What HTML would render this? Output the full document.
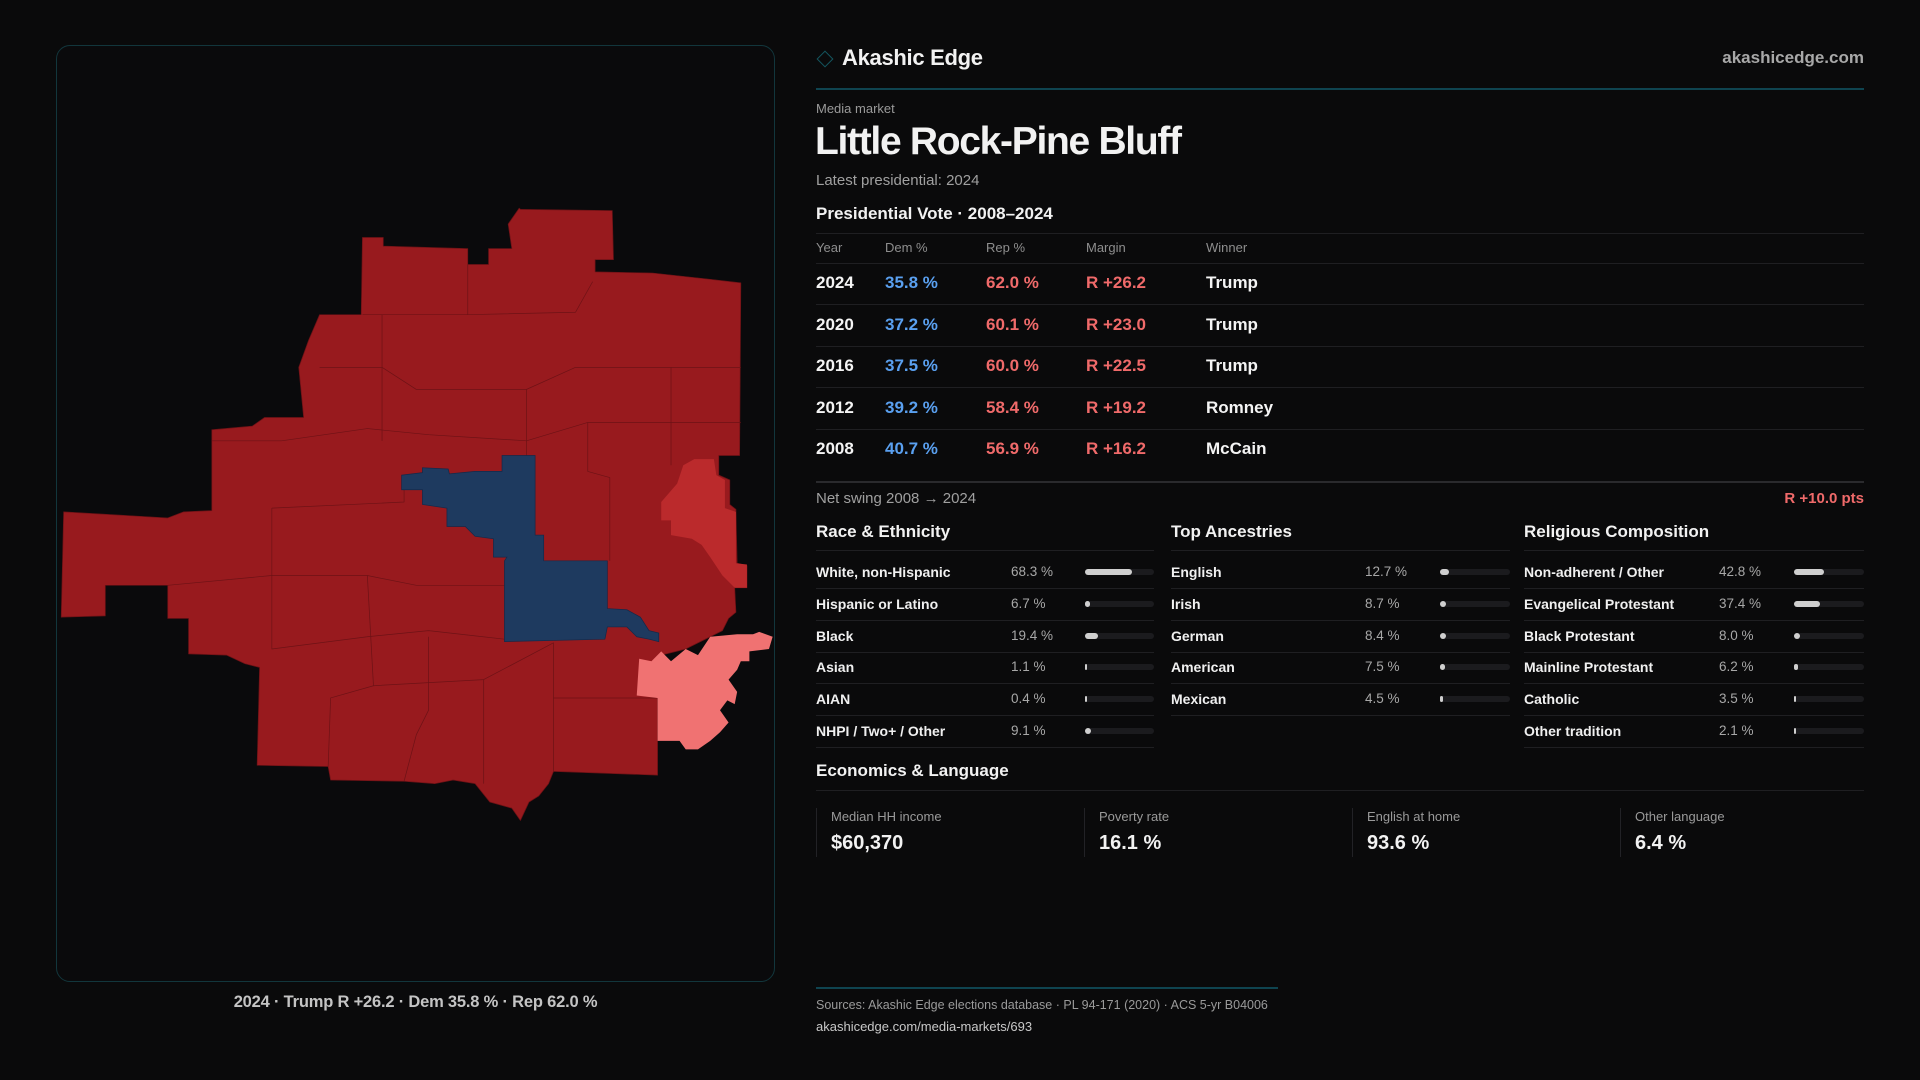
<!DOCTYPE html>
<html><head><meta charset="utf-8">
<style>
*{margin:0;padding:0;box-sizing:border-box}
body{width:1920px;height:1080px;background:#0a0a0b;font-family:"Liberation Sans",sans-serif;color:#f2f2f2;position:relative;overflow:hidden}
.a{position:absolute;white-space:nowrap}
.g{color:#9a9a9a}
.hl{position:absolute;height:1px;background:#1f1f22}
</style></head><body>
<div class="a" style="left:56px;top:45px;width:719px;height:937px;border:1.5px solid #12363c;border-radius:14px;background:#0a0a0c"></div>
<svg class="a" style="left:0;top:0" width="1920" height="1080" viewBox="0 0 1568 882">
<g stroke="#6e1216" stroke-width="0.6" stroke-linejoin="round">
<polygon fill="#981a1e" points="425,171 500,172 501,212 486,212 486,222 533,223 579,228 605,231 604,372 587,372 587,388 596,392 596,412 601,416 602,460 610,462 610,480 600,480 601,500 595,505 590,515 580,520 560,530 540,535 537,570 537,633 452,630 448,640 440,650 432,655 425,670 418,660 400,655 388,640 370,637 355,640 330,638 270,637 268,626 210,625 212,545 200,542 185,535 154,534 154,505 137,505 137,478 86,478 86,503 50,504 52,418 137,423 150,418 173,417 173,351 206,348 216,341 248,341 244,300 252,278 261,257 295,257 296,194 313,194 313,201 382,203 382,216 399,216 399,203 418,203 415,183 424,170"/>
<polyline fill="none" points="296,257 382,257 382,216"/>
<polyline fill="none" points="382,257 470,255 484,230"/>
<polyline fill="none" points="261,300 312,300 340,318 430,318 470,300 540,300 605,300"/>
<polyline fill="none" points="173,360 230,360 300,350 350,355 430,360 480,345 550,345 605,345"/>
<polyline fill="none" points="222,415 330,410 330,395"/>
<polyline fill="none" points="137,478 222,470 300,470 340,478 412,478"/>
<polyline fill="none" points="222,415 222,530 300,520 350,515 412,522"/>
<polyline fill="none" points="300,470 305,560 270,570 268,626"/>
<polyline fill="none" points="305,560 395,555 452,525 452,630"/>
<polyline fill="none" points="395,555 395,640"/>
<polyline fill="none" points="452,570 537,570"/>
<polyline fill="none" points="312,257 312,360"/>
<polyline fill="none" points="430,318 430,372"/>
<polyline fill="none" points="480,345 480,385 498,390 498,458"/>
<polyline fill="none" points="548,300 548,380"/>
<polyline fill="none" points="350,520 350,580 340,600 330,638"/>
</g>
<polygon fill="#bb2a2c" points="567,375 583,375 585,388 592,392 592,415 601,418 601,460 610,461 610,480 600,480 590,470 580,455 573,445 565,440 548,437 548,425 540,425 540,410 553,395 558,380"/>
<polygon fill="#1e3a5f" stroke="#15294a" stroke-width="0.6" points="328,388 345,386 345,382 366,383 367,387 388,385 410,385 410,372 437,372 437,437 444,437 444,458 496,458 496,497 512,498 523,504 530,515 538,517 538,524 530,522 520,520 512,512 496,512 494,522 412,524 412,458 414,455 403,455 403,440 388,438 380,430 365,430 365,415 345,412 345,400 328,400"/>
<polygon fill="#f07272" points="580,520 602,518 615,518 620,516 631,520 628,530 612,532 612,540 605,540 602,547 595,555 602,565 600,575 594,572 588,580 595,590 588,598 580,605 570,612 560,612 555,605 537,605 537,570 520,568 522,538 532,540 540,532 548,540 560,530 570,535"/>
</svg>
<div class="a" style="left:56px;width:719px;top:993px;text-align:center;font-size:16.5px;color:#c4c4c4;font-weight:bold;letter-spacing:-0.2px">2024 · Trump R +26.2 · Dem 35.8 % · Rep 62.0 %</div>

<div class="a" style="left:819px;top:53px;width:12px;height:12px;border:1.5px solid #145660;transform:rotate(45deg)"></div>
<div class="a" style="left:842px;top:45px;font-size:22px;font-weight:bold;letter-spacing:-0.3px">Akashic Edge</div>
<div class="a g" style="right:56px;top:48px;font-size:17px;font-weight:bold;color:#a8a8a8">akashicedge.com</div>
<div class="hl" style="left:816px;width:1048px;top:88px;background:#0f4450;height:1.5px"></div>
<div class="a g" style="left:816px;top:101px;font-size:13px">Media market</div>
<div class="a" style="left:815px;top:120px;font-size:39px;font-weight:bold;letter-spacing:-1.3px">Little Rock-Pine Bluff</div>
<div class="a g" style="left:816px;top:172px;font-size:15px;color:#a0a0a0">Latest presidential: 2024</div>
<div class="a" style="left:816px;top:204px;font-size:17px;font-weight:bold">Presidential Vote · 2008–2024</div>
<div class="hl" style="left:816px;width:1048px;top:233px"></div>
<div id="tbl"></div>
<div class="hl" style="left:816px;width:1048px;top:481px;height:2px;background:#2a2a2d"></div>
<div class="a g" style="left:816px;top:490px;font-size:15px;color:#a0a0a0">Net swing 2008 → 2024</div>
<div class="a" style="right:56px;top:490px;font-size:15px;font-weight:bold;color:#f06a6a">R +10.0 pts</div>
<div id="sec"></div>
<div class="a" style="left:816px;top:761px;font-size:17px;font-weight:bold">Economics &amp; Language</div>
<div class="hl" style="left:816px;width:1048px;top:790px"></div>
<div id="stats"></div>
<div class="hl" style="left:816px;width:462px;top:987px;background:#0f4450;height:1.5px"></div>
<div class="a g" style="left:816px;top:998px;font-size:12.5px;color:#9a9a9a">Sources: Akashic Edge elections database · PL 94-171 (2020) · ACS 5-yr B04006</div>
<div class="a" style="left:816px;top:1019px;font-size:13px;color:#c8c8c8">akashicedge.com/media-markets/693</div>

<script>
const years=["2024","2020","2016","2012","2008"];
const demPct=[35.8,37.2,37.5,39.2,40.7];
const repPct=[62.0,60.1,60.0,58.4,56.9];
const margins=[26.2,23.0,22.5,19.2,16.2];
const winners=["Trump","Trump","Trump","Romney","McCain"];
const raceLabels=["White, non-Hispanic","Hispanic or Latino","Black","Asian","AIAN","NHPI / Two+ / Other"];
const raceVals=[68.3,6.7,19.4,1.1,0.4,9.1];
const ancLabels=["English","Irish","German","American","Mexican"];
const ancVals=[12.7,8.7,8.4,7.5,4.5];
const relLabels=["Non-adherent / Other","Evangelical Protestant","Black Protestant","Mainline Protestant","Catholic","Other tradition"];
const relVals=[42.8,37.4,8.0,6.2,3.5,2.1];
const statLabels=["Median HH income","Poverty rate","English at home","Other language"];
const statVals=["$60,370","16.1 %","93.6 %","6.4 %"];

function mk(parent,css,txt){const d=document.createElement('div');d.className='a';d.style.cssText=css;if(txt!==undefined)d.textContent=txt;parent.appendChild(d);return d;}
const tbl=document.getElementById('tbl');
const cols=[816,885,986,1086,1206];
["Year","Dem %","Rep %","Margin","Winner"].forEach((h,i)=>{
 const e=mk(tbl,`left:${cols[i]}px;top:240px;font-size:13px;color:#8e8e8e`,h);
 
 
});
const hr=mk(tbl,'left:816px;width:1048px;top:263px;height:1px;background:#1f1f22');


const rowY=i=>283+i*41.6;
years.forEach((y,i)=>{
 const t=rowY(i)-10;
 const cells=[[y,'#f4f4f4'],[demPct[i].toFixed(1)+' %','#5aa0f0'],[repPct[i].toFixed(1)+' %','#f06a6a'],['R +'+margins[i].toFixed(1),'#f06a6a'],[winners[i],'#f4f4f4']];
 cells.forEach((c,j)=>{
  const e=mk(tbl,`left:${cols[j]}px;top:${t}px;font-size:17px;font-weight:bold;color:${c[1]}`,c[0]);
  
  
 });
 if(i<years.length-1){
  const l=mk(tbl,`left:816px;width:1048px;top:${Math.round(rowY(i)+21)}px;height:1px;background:#1f1f22`);
  
  
 }
});
const sec=document.getElementById('sec');
function section(title,x,right,valX,barX,labels,vals){
 const w=right-x;
 const h=mk(sec,`left:${x}px;top:522px;font-size:17px;font-weight:bold`,title);
 
 
 const l0=mk(sec,`left:${x}px;width:${w}px;top:550px;height:1px;background:#1f1f22`);
 
 
 const tw=right-barX;
 labels.forEach((lab,i)=>{
  const cy=572+i*31.8;
  const a=mk(sec,`left:${x}px;top:${cy-8}px;font-size:14px;font-weight:bold;color:#f0f0f0`,lab);
  
  
  const v=mk(sec,`left:${valX}px;top:${cy-8}px;font-size:13.5px;color:#a8a8a8`,vals[i].toFixed(1)+' %');
  
  
  const tr=mk(sec,`left:${barX}px;top:${cy-3}px;width:${tw}px;height:6px;border-radius:3px;background:#1b1b1e`);
  
  
  const fw=Math.max(2,vals[i]/100*tw);
  const f=mk(sec,`left:${barX}px;top:${cy-3}px;width:${fw}px;height:6px;border-radius:3px;background:#cfcfcf`);
  
  
  const l=mk(sec,`left:${x}px;width:${w}px;top:${Math.round(cy+16)}px;height:1px;background:#1f1f22`);
  
  
 });
}
section("Race & Ethnicity",816,1154,1011,1085,raceLabels,raceVals);
section("Top Ancestries",1171,1510,1365,1440,ancLabels,ancVals);
section("Religious Composition",1524,1864,1719,1794,relLabels,relVals);
const st=document.getElementById('stats');
statLabels.forEach((s,i)=>{
 const x=816+i*268;
 const b=mk(st,`left:${x}px;top:808px;width:1px;height:49px;background:#222226`);
 
 
 const l=mk(st,`left:${x+15}px;top:809px;font-size:13px;color:#9a9a9a`,s);
 
 
 const v=mk(st,`left:${x+15}px;top:832px;font-size:20px;font-weight:bold`,statVals[i]);
 
 
});
</script>
</body></html>
